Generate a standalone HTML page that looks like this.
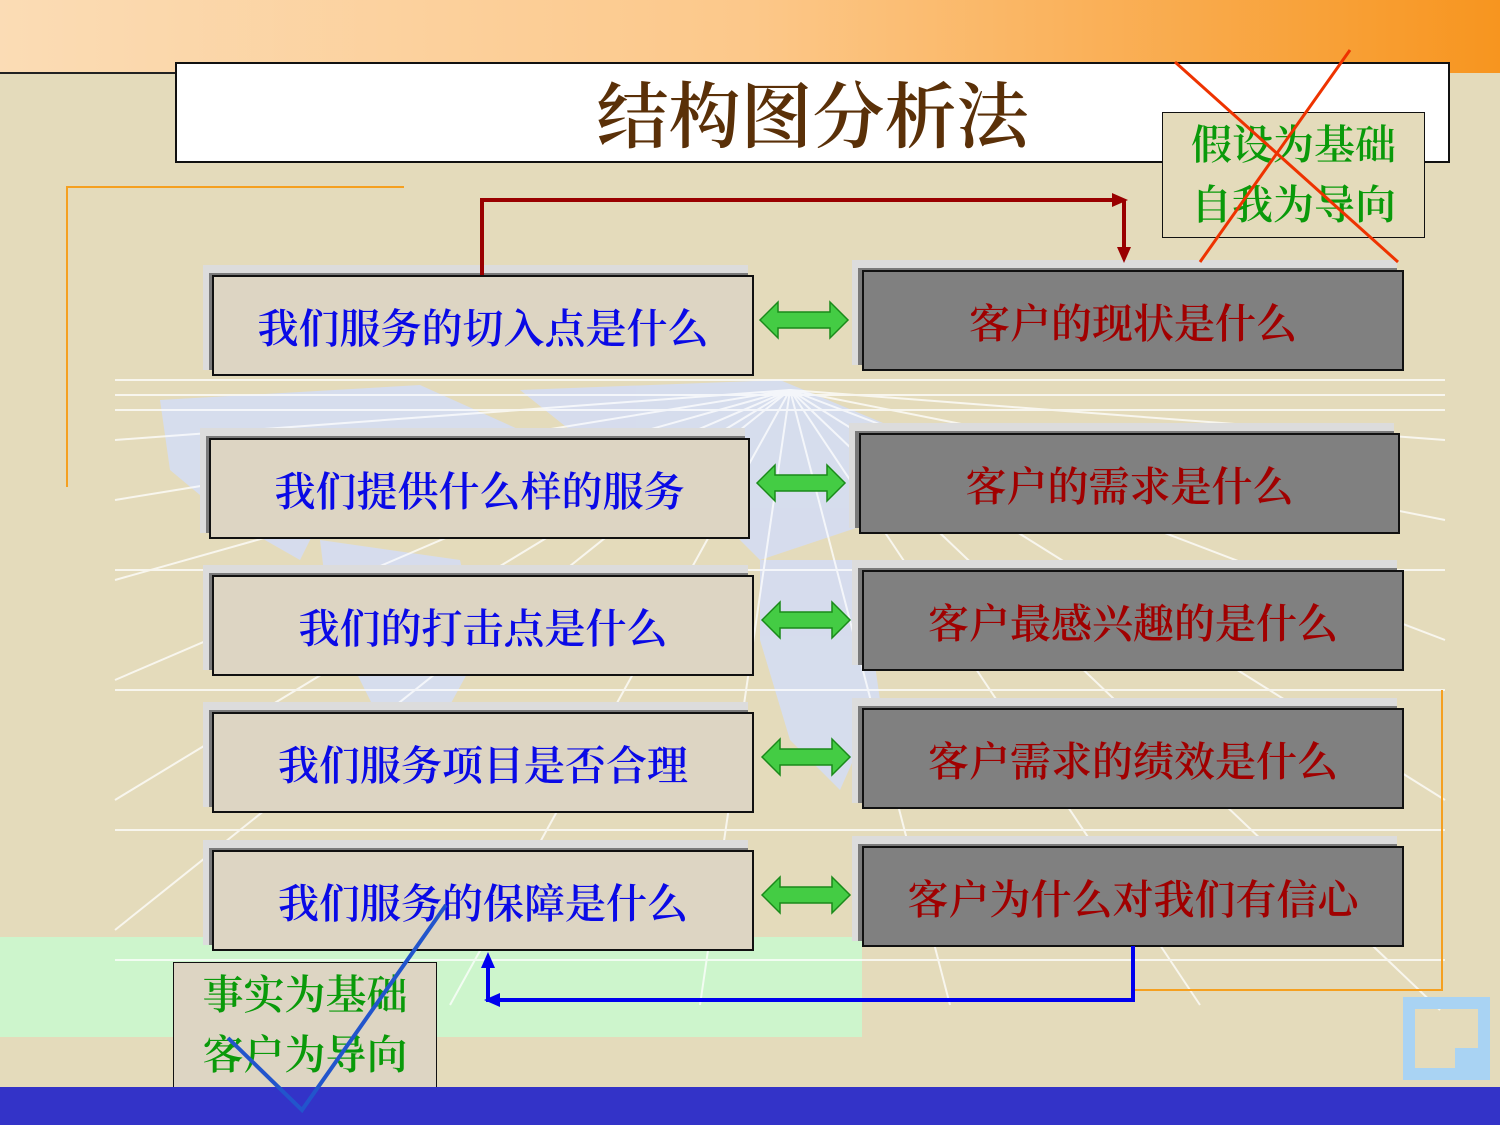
<!DOCTYPE html>
<html><head><meta charset="utf-8"><style>
*{margin:0;padding:0;box-sizing:border-box}
body{width:1500px;height:1125px;position:relative;overflow:hidden;background:#e4dbbb;font-family:"Liberation Serif","Noto Serif CJK SC","Noto Sans CJK SC",serif}
.a{position:absolute}
.box{position:absolute;border:2px solid #111;display:flex;align-items:center;justify-content:center;font-size:41px;font-weight:600;white-space:nowrap}
.sh{position:absolute;background:#7a7a7a;border-top:8px solid #dcdcdc;border-left:6px solid #dcdcdc}
.L{background:#ddd5c3;color:#0a0ae6}
.R{background:#808080;color:#a00000}
</style></head><body>
<div class="a" style="left:0;top:0;width:1500px;height:73px;background:linear-gradient(90deg,#fbdcb5 0%,#fcc88a 50%,#f7951f 100%)"></div>
<div class="a" style="left:0;top:72px;width:176px;height:2px;background:#222"></div>
<div class="a" style="left:0;top:937px;width:862px;height:100px;background:#cdf5cc"></div>
<svg class="a" style="left:0;top:0" width="1500" height="1125">
<g fill="#d4ddf6" opacity="0.85">
<path d="M160 400 L420 385 L520 430 L470 480 L330 500 L300 560 L230 520 L170 470Z"/>
<path d="M320 540 L460 560 L480 650 L420 760 L380 720 L330 620Z"/>
<path d="M520 390 L780 380 L900 430 L880 520 L760 560 L700 500 L620 470Z"/>
<path d="M760 560 L860 560 L880 700 L840 790 L790 740 L760 640Z"/>
</g>
<g stroke="#fff" stroke-width="2" opacity="0.75">
<line x1="115" y1="380" x2="1445" y2="380"/><line x1="115" y1="395" x2="1445" y2="395"/>
<line x1="115" y1="410" x2="1445" y2="410"/><line x1="115" y1="440" x2="790" y2="390"/>
<line x1="115" y1="500" x2="790" y2="390"/><line x1="115" y1="580" x2="790" y2="390"/>
<line x1="115" y1="680" x2="790" y2="390"/><line x1="115" y1="800" x2="790" y2="390"/>
<line x1="115" y1="930" x2="790" y2="390"/><line x1="1445" y1="440" x2="790" y2="390"/>
<line x1="1445" y1="520" x2="790" y2="390"/><line x1="1445" y1="640" x2="790" y2="390"/>
<line x1="1445" y1="800" x2="790" y2="390"/><line x1="1440" y1="1010" x2="790" y2="390"/>
<line x1="1200" y1="1005" x2="790" y2="390"/><line x1="950" y1="1005" x2="790" y2="390"/>
<line x1="700" y1="1005" x2="790" y2="390"/><line x1="450" y1="1005" x2="790" y2="390"/>
<line x1="115" y1="570" x2="1445" y2="570"/><line x1="115" y1="690" x2="1445" y2="690"/>
<line x1="115" y1="830" x2="1445" y2="830"/><line x1="115" y1="960" x2="1445" y2="960"/>
</g>
<g stroke="#f5a020" stroke-width="2" fill="none">
<polyline points="404,187 67,187 67,487"/>
<polyline points="1442,690 1442,990 1135,990"/>
</g>
<path d="M1403 997 H1490 V1080 H1403Z M1415 1009 V1068 H1455 V1048 H1478 V1009Z" fill="#a9d3f3" fill-rule="evenodd"/>
</svg>
<div class="a" style="left:175px;top:62px;width:1275px;height:101px;background:#fff;border:2px solid #111"></div>
<div class="a" style="left:175px;top:60px;width:1275px;height:101px;display:flex;align-items:center;justify-content:center;font-size:72px;font-weight:600;color:#5a3008;font-family:'Liberation Serif','Noto Serif CJK SC',serif">结构图分析法</div>

<div class="sh" style="left:203px;top:265px;width:545px;height:105px"></div><div class="box L" style="left:212px;top:275px;width:542px;height:101px">我们服务的切入点是什么</div>
<div class="sh" style="left:200px;top:428px;width:545px;height:105px"></div><div class="box L" style="left:209px;top:438px;width:541px;height:101px">我们提供什么样的服务</div>
<div class="sh" style="left:203px;top:565px;width:545px;height:105px"></div><div class="box L" style="left:212px;top:575px;width:542px;height:101px">我们的打击点是什么</div>
<div class="sh" style="left:203px;top:702px;width:545px;height:105px"></div><div class="box L" style="left:212px;top:712px;width:542px;height:101px">我们服务项目是否合理</div>
<div class="sh" style="left:203px;top:840px;width:545px;height:105px"></div><div class="box L" style="left:212px;top:850px;width:542px;height:101px">我们服务的保障是什么</div>

<div class="sh" style="left:852px;top:260px;width:545px;height:105px"></div><div class="box R" style="left:862px;top:270px;width:542px;height:101px">客户的现状是什么</div>
<div class="sh" style="left:849px;top:423px;width:545px;height:105px"></div><div class="box R" style="left:859px;top:433px;width:541px;height:101px">客户的需求是什么</div>
<div class="sh" style="left:852px;top:560px;width:545px;height:105px"></div><div class="box R" style="left:862px;top:570px;width:542px;height:101px">客户最感兴趣的是什么</div>
<div class="sh" style="left:852px;top:698px;width:545px;height:105px"></div><div class="box R" style="left:862px;top:708px;width:542px;height:101px">客户需求的绩效是什么</div>
<div class="sh" style="left:852px;top:836px;width:545px;height:105px"></div><div class="box R" style="left:862px;top:846px;width:542px;height:101px">客户为什么对我们有信心</div>

<div class="box" style="left:1162px;top:112px;width:263px;height:126px;background:#e4dbbb;border-width:1.5px;color:#0a9a0a;white-space:normal;line-height:60px;text-align:center">假设为基础<br>自我为导向</div>
<div class="box" style="left:173px;top:962px;width:264px;height:126px;background:#ddd5c3;border-width:1.5px;color:#0a9a0a;white-space:normal;line-height:60px;text-align:center">事实为基础<br>客户为导向</div>
<div class="a" style="left:0;top:1087px;width:1500px;height:38px;background:#3333c8"></div>

<svg class="a" style="left:0;top:0" width="1500" height="1125">
<defs><g id="dbl"><path d="M0 0 L18 -18 V-8 H70 V-18 L88 0 L70 18 V8 H18 V18Z" fill="#44cc44" stroke="#1a8a1a" stroke-width="1.5"/></g></defs>
<use href="#dbl" x="760" y="320"/><use href="#dbl" x="757" y="483"/><use href="#dbl" x="762" y="620"/><use href="#dbl" x="762" y="757"/><use href="#dbl" x="762" y="895"/>
<g stroke="#990000" stroke-width="4" fill="none"><polyline points="482,275 482,200 1115,200"/><line x1="1124" y1="200" x2="1124" y2="252"/></g>
<path d="M1128 200 L1112 193 V207Z M1124 263 L1117 247 H1131Z" fill="#990000"/>
<g stroke="#0000ee" stroke-width="4" fill="none"><polyline points="1133,946 1133,1000 488,1000 488,965"/></g>
<path d="M488 952 L481 968 H495Z M484 1000 L500 993 V1007Z" fill="#0000ee"/>
<g stroke="#ee3300" stroke-width="3"><line x1="1175" y1="62" x2="1398" y2="262"/><line x1="1350" y1="50" x2="1200" y2="262"/></g>
<polyline points="228,1038 302,1110 446,905" fill="none" stroke="#2255cc" stroke-width="4"/>
</svg>
</body></html>
